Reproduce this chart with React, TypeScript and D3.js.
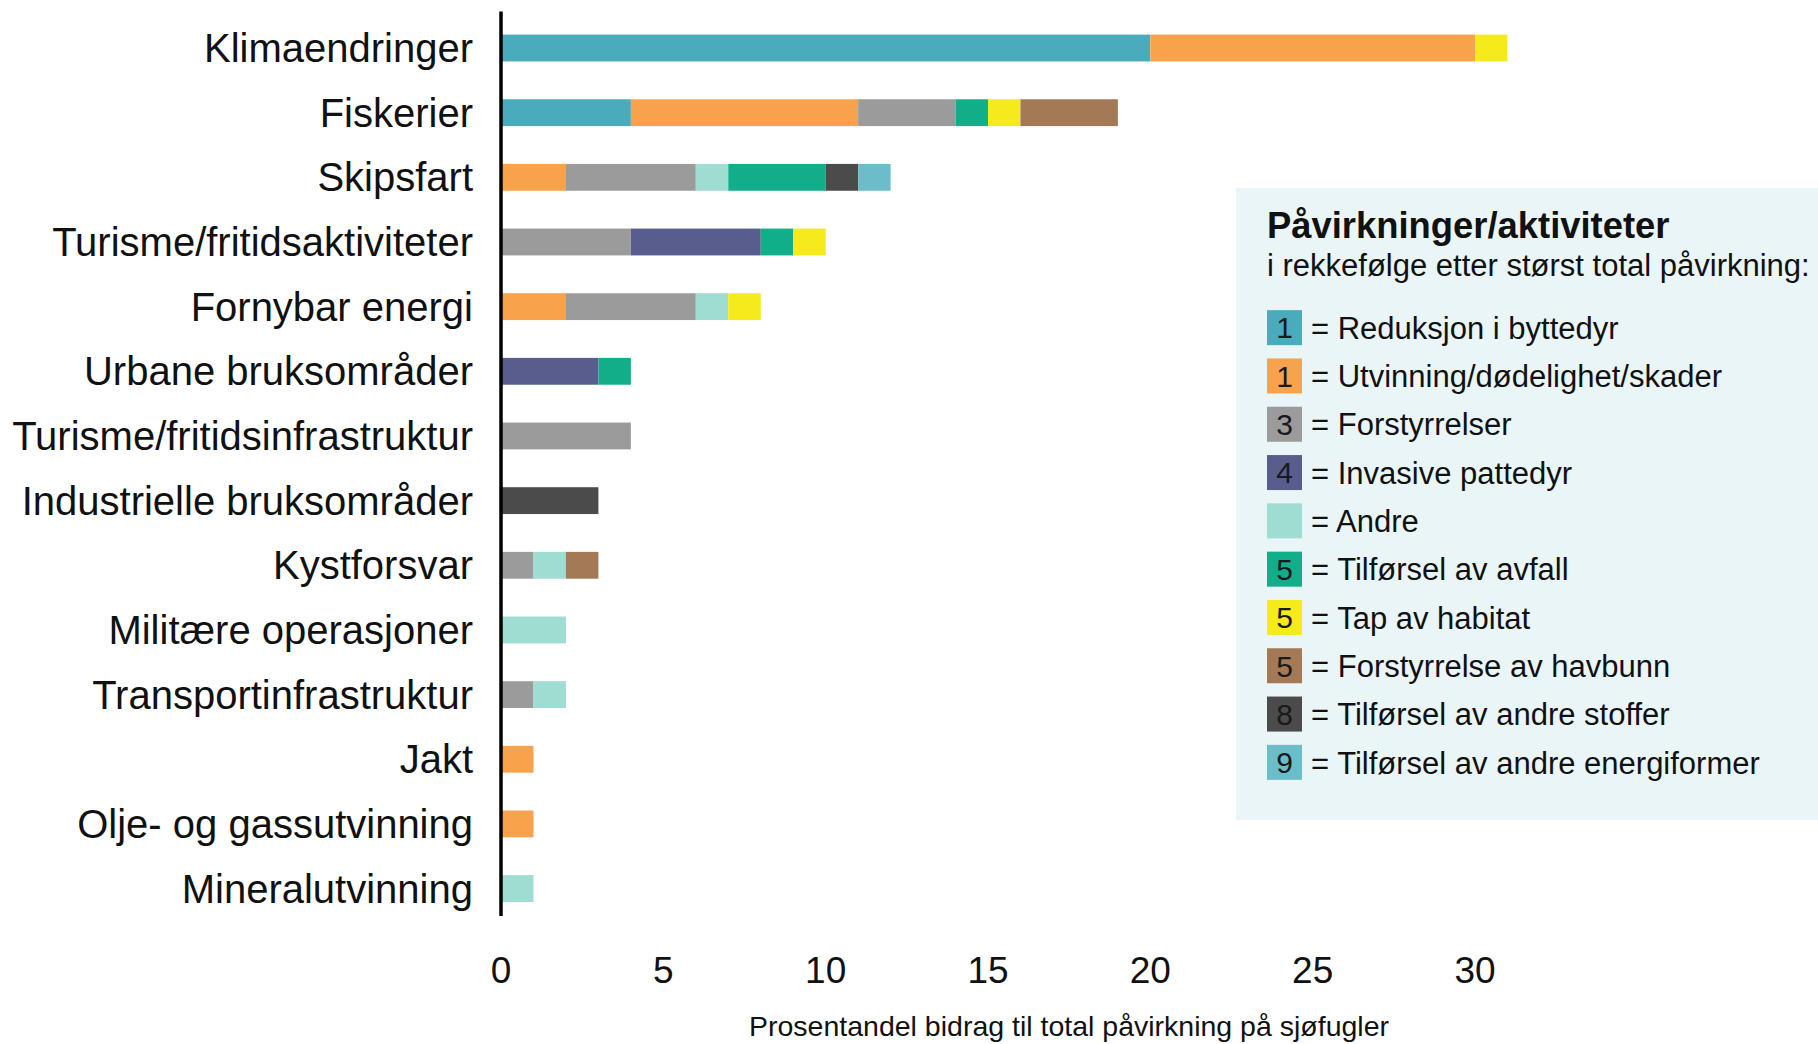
import * as d3 from "d3";

const categories = [
  "Klimaendringer",
  "Fiskerier",
  "Skipsfart",
  "Turisme/fritidsaktiviteter",
  "Fornybar energi",
  "Urbane bruksområder",
  "Turisme/fritidsinfrastruktur",
  "Industrielle bruksområder",
  "Kystforsvar",
  "Militære operasjoner",
  "Transportinfrastruktur",
  "Jakt",
  "Olje- og gassutvinning",
  "Mineralutvinning",
];

// one array per pressure, values per category (percent)
const reduksjon = [20, 4, 0, 0, 0, 0, 0, 0, 0, 0, 0, 0, 0, 0];
const utvinning = [10, 7, 2, 0, 2, 0, 0, 0, 0, 0, 0, 1, 1, 0];
const forstyrrelser = [0, 3, 4, 4, 4, 0, 4, 0, 1, 0, 1, 0, 0, 0];
const invasive = [0, 0, 0, 4, 0, 3, 0, 0, 0, 0, 0, 0, 0, 0];
const andre = [0, 0, 1, 0, 1, 0, 0, 0, 1, 2, 1, 0, 0, 1];
const avfall = [0, 1, 3, 1, 0, 1, 0, 0, 0, 0, 0, 0, 0, 0];
const habitat = [1, 1, 0, 1, 1, 0, 0, 0, 0, 0, 0, 0, 0, 0];
const havbunn = [0, 3, 0, 0, 0, 0, 0, 0, 1, 0, 0, 0, 0, 0];
const stoffer = [0, 0, 1, 0, 0, 0, 0, 3, 0, 0, 0, 0, 0, 0];
const energi = [0, 0, 1, 0, 0, 0, 0, 0, 0, 0, 0, 0, 0, 0];

const keys = ["reduksjon", "utvinning", "forstyrrelser", "invasive", "andre", "avfall", "habitat", "havbunn", "stoffer", "energi"];
const series = [reduksjon, utvinning, forstyrrelser, invasive, andre, avfall, habitat, havbunn, stoffer, energi];
const legendLabels = [
  "= Reduksjon i byttedyr",
  "= Utvinning/dødelighet/skader",
  "= Forstyrrelser",
  "= Invasive pattedyr",
  "= Andre",
  "= Tilførsel av avfall",
  "= Tap av habitat",
  "= Forstyrrelse av havbunn",
  "= Tilførsel av andre stoffer",
  "= Tilførsel av andre energiformer",
];
const legendRanks = ["1", "1", "3", "4", "", "5", "5", "5", "8", "9"];
const colors = ["#4aabbd", "#f8a24b", "#9b9b9b", "#585d8e", "#9fdcd1", "#12ad89", "#f5ea1c", "#a37a55", "#4b4b4b", "#6cbdca"];

const xTicks = [0, 5, 10, 15, 20, 25, 30];

const width = 1818;
const height = 1044;
const font = "'Liberation Sans', Arial, Helvetica, sans-serif";

export default function App() {
  const rows = categories.map((c, i) => {
    const r: any = { cat: c };
    keys.forEach((k, j) => (r[k] = series[j][i]));
    return r;
  });
  const stacked = d3.stack().keys(keys)(rows);

  const x = d3.scaleLinear([0, 30], [501, 1475]);
  const y = d3
    .scaleBand<string>()
    .domain(categories)
    .range([15.7, 920.9])
    .paddingInner(0.585)
    .paddingOuter(0.2925);
  const color = d3.scaleOrdinal<string, string>(keys, colors);
  const legendY = d3.scaleBand<string>().domain(keys).range([303.5, 786.5]);

  return (
    <svg
      width={width}
      height={height}
      style={{ position: "absolute", left: 0, top: 0, background: "#fff" }}
      fontFamily={font}
    >
      {/* bars */}
      {stacked.map((s) => (
        <g key={s.key} fill={color(s.key)}>
          {s.map((d, i) =>
            d[1] - d[0] > 0 ? (
              <rect
                key={i}
                x={x(d[0])}
                y={y(categories[i])}
                width={x(d[1]) - x(d[0])}
                height={y.bandwidth()}
              />
            ) : null
          )}
        </g>
      ))}

      {/* category labels */}
      {categories.map((c) => (
        <text
          key={c}
          x={473}
          y={y(c)! + y.bandwidth() / 2}
          dy="0.35em"
          textAnchor="end"
          fontSize={40}
          fill="#111"
        >
          {c}
        </text>
      ))}

      {/* y axis line */}
      <line x1={x(0)} x2={x(0)} y1={11.6} y2={916} stroke="#000" strokeWidth={3.5} />

      {/* x tick labels */}
      {xTicks.map((t) => (
        <text key={t} x={x(t)} y={983} textAnchor="middle" fontSize={37} fill="#111">
          {t}
        </text>
      ))}
      <text x={1069} y={1036} textAnchor="middle" fontSize={28.5} fill="#111">
        Prosentandel bidrag til total påvirkning på sjøfugler
      </text>

      {/* legend */}
      <rect x={1236} y={188} width={582} height={632} fill="#e9f5f6" />
      <text x={1267} y={238} fontSize={36.4} fontWeight="bold" fill="#111">
        Påvirkninger/aktiviteter
      </text>
      <text x={1267} y={276} fontSize={31} fill="#111">
        i rekkefølge etter størst total påvirkning:
      </text>
      {keys.map((k, i) => {
        const cy = legendY(k)! + legendY.bandwidth() / 2;
        return (
          <g key={k}>
            <rect x={1267} y={cy - 17.5} width={35} height={35} fill={color(k)} />
            <text x={1284.5} y={cy} dy="0.36em" textAnchor="middle" fontSize={30} fill="#1a1a1a">
              {legendRanks[i]}
            </text>
            <text x={1311} y={cy} dy="0.36em" fontSize={31} fill="#111">
              {legendLabels[i]}
            </text>
          </g>
        );
      })}
    </svg>
  );
}
